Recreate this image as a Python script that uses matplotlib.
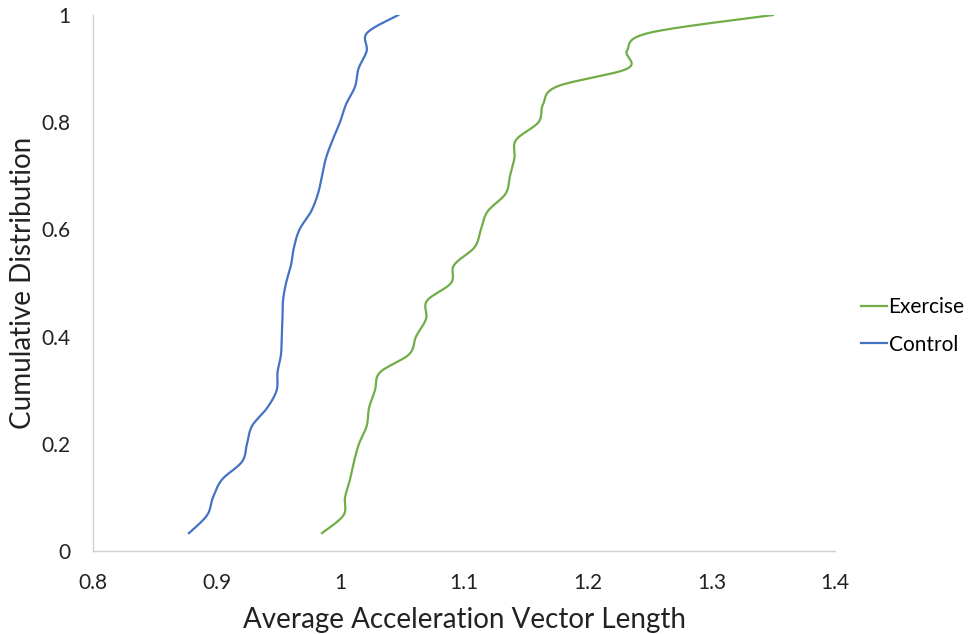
import numpy as np
import matplotlib
matplotlib.use("Agg")
import matplotlib.pyplot as plt

plt.rcParams["font.family"] = ["Lato", "DejaVu Sans"]

# cumulative fraction for 30 subjects
cum_dist = [i / 30 for i in range(1, 31)]

control = [0.8776, 0.8922, 0.8970, 0.9043, 0.9205, 0.9245, 0.9286, 0.9407,
           0.9485, 0.9492, 0.9520, 0.9526, 0.9532, 0.9536, 0.9561, 0.9601,
           0.9625, 0.9670, 0.9763, 0.9819, 0.9852, 0.9884, 0.9937, 0.9997,
           1.0046, 1.0119, 1.0147, 1.0213, 1.0216, 1.0469]

exercise = [0.9852, 1.0025, 1.0038, 1.0078, 1.0110, 1.0151, 1.0213, 1.0232,
            1.0280, 1.0321, 1.0555, 1.0612, 1.0693, 1.0700, 1.0895, 1.0919,
            1.1085, 1.1137, 1.1190, 1.1336, 1.1372, 1.1408, 1.1420, 1.1602,
            1.1639, 1.1752, 1.2320, 1.2318, 1.2496, 1.3498]

xticks = [0.8, 0.9, 1.0, 1.1, 1.2, 1.3, 1.4]
xlabels = ["0.8", "0.9", "1", "1.1", "1.2", "1.3", "1.4"]
yticks = [0, 0.2, 0.4, 0.6, 0.8, 1.0]
ylabels = ["0", "0.2", "0.4", "0.6", "0.8", "1"]


def smooth(x, y, n=30):
    # excel style smoothed line: bezier through points
    x = np.asarray(x)
    y = np.asarray(y)
    px = np.concatenate([[x[0]], x, [x[-1]]])
    py = np.concatenate([[y[0]], y, [y[-1]]])
    xs, ys = [], []
    t = np.linspace(0, 1, n)
    for i in range(1, len(px) - 2):
        p0 = np.array([px[i], py[i]])
        p3 = np.array([px[i + 1], py[i + 1]])
        c1 = p0 + (p3 - np.array([px[i - 1], py[i - 1]])) / 6
        c2 = p3 - (np.array([px[i + 2], py[i + 2]]) - p0) / 6
        b = ((1 - t) ** 3)[:, None] * p0 + (3 * (1 - t) ** 2 * t)[:, None] * c1 \
            + (3 * (1 - t) * t ** 2)[:, None] * c2 + (t ** 3)[:, None] * p3
        xs.extend(b[:, 0])
        ys.extend(b[:, 1])
    return xs, ys


fig = plt.figure(figsize=(9.68, 6.34), dpi=100)
ax = fig.add_axes([0.0961, 0.1309, 0.7665, 0.8454])

ex_x, ex_y = smooth(exercise, cum_dist)
co_x, co_y = smooth(control, cum_dist)
ax.plot(ex_x, ex_y, color="#70AD47", lw=1.6, label="Exercise")
ax.plot(co_x, co_y, color="#4472C4", lw=1.6, label="Control")

ax.set_xlim(0.8, 1.4)
ax.set_ylim(0, 1)
ax.set_xticks(xticks)
ax.set_xticklabels(xlabels)
ax.set_yticks(yticks)
ax.set_yticklabels(ylabels)
ax.tick_params(length=0, labelsize=15, colors="#222222")
ax.tick_params(axis="x", pad=16)
ax.tick_params(axis="y", pad=16)

for s in ["top", "right"]:
    ax.spines[s].set_visible(False)
for s in ["left", "bottom"]:
    ax.spines[s].set_color("#D0D0D0")
    ax.spines[s].set_linewidth(1.0)

ax.set_xlabel("Average Acceleration Vector Length", fontsize=20, color="#222222", labelpad=10)
ax.set_ylabel("Cumulative Distribution", fontsize=20, color="#222222")
ax.yaxis.set_label_coords(-0.077, 0.5)

fig.legend(loc="center left", bbox_to_anchor=(0.870, 0.486), frameon=False,
           fontsize=15, handlelength=1.25, handletextpad=0.08, labelspacing=0.85)

fig.savefig("out.png", dpi=100)
